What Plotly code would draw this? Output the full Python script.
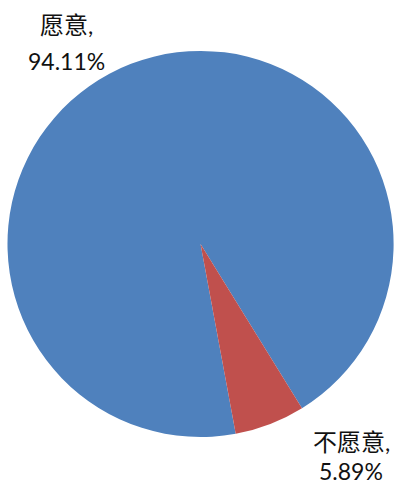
import plotly.graph_objects as go

labels = ["愿意", "不愿意"]
values = [94.11, 5.89]
colors = ["#4F81BD", "#C0504D"]

# label anchor positions (paper coords) for each slice: (x, y_name, y_pct)
label_pos = [(66 / 394, 1 - 24 / 484, 1 - 61 / 484),
             (351 / 394, 1 - 441 / 484, 1 - 471 / 484)]

fig = go.Figure(go.Pie(
    labels=labels,
    values=values,
    sort=False,
    direction="clockwise",
    rotation=169.5,
    marker=dict(colors=colors, line=dict(width=0)),
    textinfo="none",
    hoverinfo="label+percent",
    domain=dict(x=[0.019, 0.999], y=[0.097, 0.895]),
    showlegend=False,
))

font = dict(family="Lato, 'Noto Sans CJK SC', sans-serif", size=23, color="#111111")
annotations = []
for lab, val, (x, y1, y2) in zip(labels, values, label_pos):
    annotations.append(dict(x=x, y=y1, xref="paper", yref="paper",
                            text=f"<span style='font-size:24px'>{lab}</span>,",
                            showarrow=False, xanchor="center", yanchor="middle", font=font))
    annotations.append(dict(x=x, y=y2, xref="paper", yref="paper", text=f"{val:.2f}%",
                            showarrow=False, xanchor="center", yanchor="middle", font=font))

fig.update_layout(
    width=394, height=484,
    margin=dict(l=0, r=0, t=0, b=0),
    paper_bgcolor="white",
    plot_bgcolor="white",
    annotations=annotations,
)

fig.write_html("out.html",
               config={"displayModeBar": False},
               post_script="document.body.style.margin='0';document.body.style.overflow='hidden';")
